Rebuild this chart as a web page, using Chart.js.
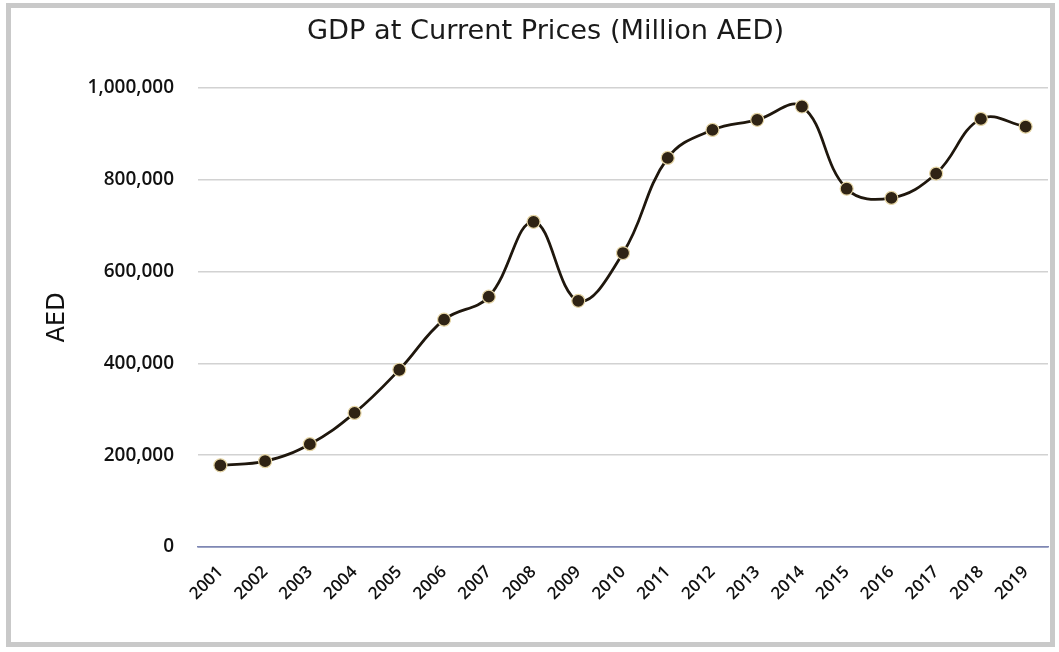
<!DOCTYPE html>
<html>
<head>
<meta charset="utf-8">
<script src="https://cdn.jsdelivr.net/npm/chart.js@4"></script>
<style>
  html, body { margin: 0; padding: 0; background: #fff; }
  #frame {
    position: absolute; left: 6px; top: 3px;
    width: 1039px; height: 634px;
    border: 5px solid #c9c9c9;
    background: #fff;
  }
</style>
</head>
<body>
<div id="frame"><canvas id="gdp_chart"></canvas></div>
<script>
// Years on the x axis
var years = ['2001', '2002', '2003', '2004', '2005', '2006', '2007', '2008', '2009', '2010',
             '2011', '2012', '2013', '2014', '2015', '2016', '2017', '2018', '2019'];

// GDP at current prices, million AED
var gdpValues = [178000, 187000, 224000, 292000, 386000, 495000, 545000, 708000, 536000, 640000,
                 847000, 908000, 930000, 959000, 780000, 760000, 813000, 932000, 915000];

// y axis ticks
var yMin = 0;
var yMax = 1000000;
var yStep = 200000;

var chartFont = '"DejaVu Sans", Verdana, sans-serif';
var tickFont = '"Open Sans", "DejaVu Sans", sans-serif';
var ctx = document.getElementById('gdp_chart');

var gdp_chart = new Chart(ctx, {
    type: 'line',
    data: {
        labels: years,
        datasets: [{
            label: 'GDP',
            data: gdpValues,
            borderColor: '#1f170d',
            borderWidth: 2.8,
            tension: 0.4,
            pointRadius: 6.5,
            pointHoverRadius: 6.5,
            pointBackgroundColor: '#2f2314',
            pointBorderColor: '#e6d6a6',
            pointBorderWidth: 1.2,
            fill: false
        }]
    },
    options: {
        responsive: true,
        maintainAspectRatio: false,
        animation: false,
        layout: {
            autoPadding: false, // points may sit close to the edge, like the original
            padding: { left: 32, right: 2, top: 6, bottom: 23 }
        },
        plugins: {
            legend: { display: false },
            tooltip: { enabled: false },
            title: {
                display: true,
                text: 'GDP at Current Prices (Million AED)',
                color: '#1a1a1a',
                font: { family: chartFont, size: 27.2, weight: 'normal' },
                padding: { top: 2, bottom: 39 }
            }
        },
        scales: {
            x: {
                offset: true,
                // rotated labels end at their tick, so no extra side padding is needed
                afterFit: function (scale) { scale.paddingLeft = 0; scale.paddingRight = 0; },
                grid: { display: false, drawTicks: false },
                border: { display: true, color: '#7f87b3', width: 1.5 },
                ticks: {
                    color: '#111',
                    font: { family: tickFont, size: 17, weight: 600 },
                    minRotation: 45,
                    maxRotation: 45,
                    padding: 15
                }
            },
            y: {
                min: yMin,
                max: yMax,
                afterFit: function (scale) { scale.width = 155; },
                grid: {
                    drawTicks: false,
                    lineWidth: 1.5,
                    color: function (c) {
                        return c.tick && c.tick.value === 0 ? '#7f87b3' : '#d2d2d2';
                    }
                },
                border: { display: false },
                ticks: {
                    stepSize: yStep,
                    color: '#111',
                    font: { family: tickFont, size: 19, weight: 600 },
                    padding: 24,
                    callback: function (v) { return v.toLocaleString('en-US'); }
                },
                title: {
                    display: true,
                    text: 'AED',
                    color: '#111',
                    font: { family: chartFont, size: 24 },
                    padding: { top: 0, bottom: 12 }
                }
            }
        }
    }
});
</script>
</body>
</html>
